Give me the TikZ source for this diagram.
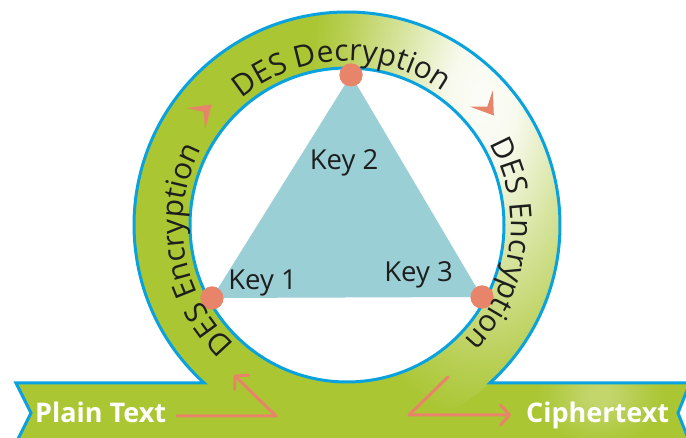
\documentclass[tikz,border=0pt]{standalone}
\usepackage{fontspec}
\setmainfont{Open Sans}
\usetikzlibrary{decorations.text, arrows.meta, fadings}
\definecolor{ringgreen}{HTML}{AAC632}
\definecolor{ringblue}{HTML}{0AA2DE}
\definecolor{keyteal}{HTML}{9BCFD6}
\definecolor{dotsalmon}{HTML}{E8846A}
\definecolor{inktext}{HTML}{1E1E1E}
\pgfdeclareradialshading{spotshade}{\pgfpointorigin}{color(0bp)=(transparent!3); color(4.5bp)=(transparent!8); color(11bp)=(transparent!42); color(19bp)=(transparent!82); color(23.5bp)=(transparent!100); color(50bp)=(transparent!100)}
\pgfdeclarefading{softspot}{\pgfuseshading{spotshade}}
\newcommand\ringfont{\fontsize{30}{33}\selectfont}
\newcommand\keyfont{\fontsize{27.5}{31}\selectfont}
\newcommand\bannerfont{\fontsize{27}{30}\selectfont\bfseries}
\tikzset{
  blueline/.style={draw=ringblue, line width=3pt},
  keydot/.style={circle, fill=dotsalmon, minimum size=23pt, inner sep=0pt},
  keylabel/.style={text=inktext, font=\keyfont, inner sep=0pt, anchor=base},
  bannerlabel/.style={text=white, font=\bannerfont, inner sep=0pt, anchor=base west},
  flowarrow/.style={draw=dotsalmon, line width=3pt, line join=round, line cap=round,
    -{Straight Barb[length=9pt, width=20pt, line width=3pt, round]}},
  ringtext/.style={decorate, decoration={text along path, text align=center,
    text color=inktext, text={|\ringfont|#1}}},
  ringhead/.style={fill=dotsalmon}
}
\begin{document}
\begin{tikzpicture}[x=1pt, y=1pt]
\useasboundingbox (0,0) rectangle (686,438);
\coordinate (C) at (347,213);
% green body: ring + banner
\fill[ringgreen] (16,55) -- ([shift={(347,213)}]227.8:213) arc[start angle=227.8, end angle=-47.8, radius=213]
  -- (690,55) -- (678,25) -- (690,-5) -- (16,-5) -- (31,25) -- cycle;
% highlights (soft white spots)
\begin{scope}
  \clip (C) circle[radius=213];
  \fill[white, path fading=softspot] (483,336) ellipse[x radius=185, y radius=340];
\end{scope}
\begin{scope}
  \clip (16,55) -- (690,55) -- (678,25) -- (690,-5) -- (16,-5) -- (31,25) -- cycle;
  \fill[white, fill opacity=0.3, path fading=softspot] (600,43) ellipse[x radius=70, y radius=55];
\end{scope}
% outline
\draw[blueline] (16,-5) -- (31,25) -- (16,55) -- ([shift={(347,213)}]227.8:213) arc[start angle=227.8, end angle=-47.8, radius=213]
  -- (690,55) -- (678,25) -- (690,-5);
% inner circle
\filldraw[fill=white, blueline] (C) circle[radius=157];
% triangle
\node[keydot] (d2) at (351,363) {};
\node[keydot] (d1) at (212,140) {};
\node[keydot] (d3) at (482,141) {};
\fill[keyteal] (d2.center) -- (d1.center) -- (d3.center) -- cycle;
\node[keydot] at (d2.center) {};
\node[keydot] at (d1.center) {};
\node[keydot] at (d3.center) {};
\node[keylabel] (k1) at (262.5,148) {Key 1};
\node[keylabel] (k2) at (344,268) {Key 2};
\node[keylabel] (k3) at (418.5,156) {Key 3};
% ring texts
\path[ringtext={DES Decryption}] ([shift={(347,213)}]142:164) arc[start angle=142, end angle=42, radius=164];
\path[ringtext={DES Encryption}] ([shift={(347,213)}]239.5:164) arc[start angle=239.5, end angle=139.5, radius=164];
\path[ringtext={DES Encryption}] ([shift={(347,213)}]42.5:164) arc[start angle=42.5, end angle=-57.5, radius=164];
% ring arrowheads
\fill[ringhead, shift={(196,319.5)}, rotate=42] (21,0) -- (0,14) -- (10,0) -- (0,-14) -- cycle;
\fill[ringhead, shift={(481.5,339.5)}, rotate=-54] (21,0) -- (0,14) -- (10,0) -- (0,-14) -- cycle;
% banner labels
\node[bannerlabel] (pt) at (35,15) {Plain Text};
\node[bannerlabel] (ct) at (526,15) {Ciphertext};
% flow arrows
\coordinate (a1s) at (177,22);
\coordinate (a1m) at (276,22);
\coordinate (a1e) at (234,63);
\coordinate (a2s) at (448,61);
\coordinate (a2m) at (409,23);
\coordinate (a2e) at (511,23);
\draw[flowarrow] (a1s) -- (a1m) -- (a1e);
\draw[flowarrow] (a2s) -- (a2m) -- (a2e);
\end{tikzpicture}
\end{document}
